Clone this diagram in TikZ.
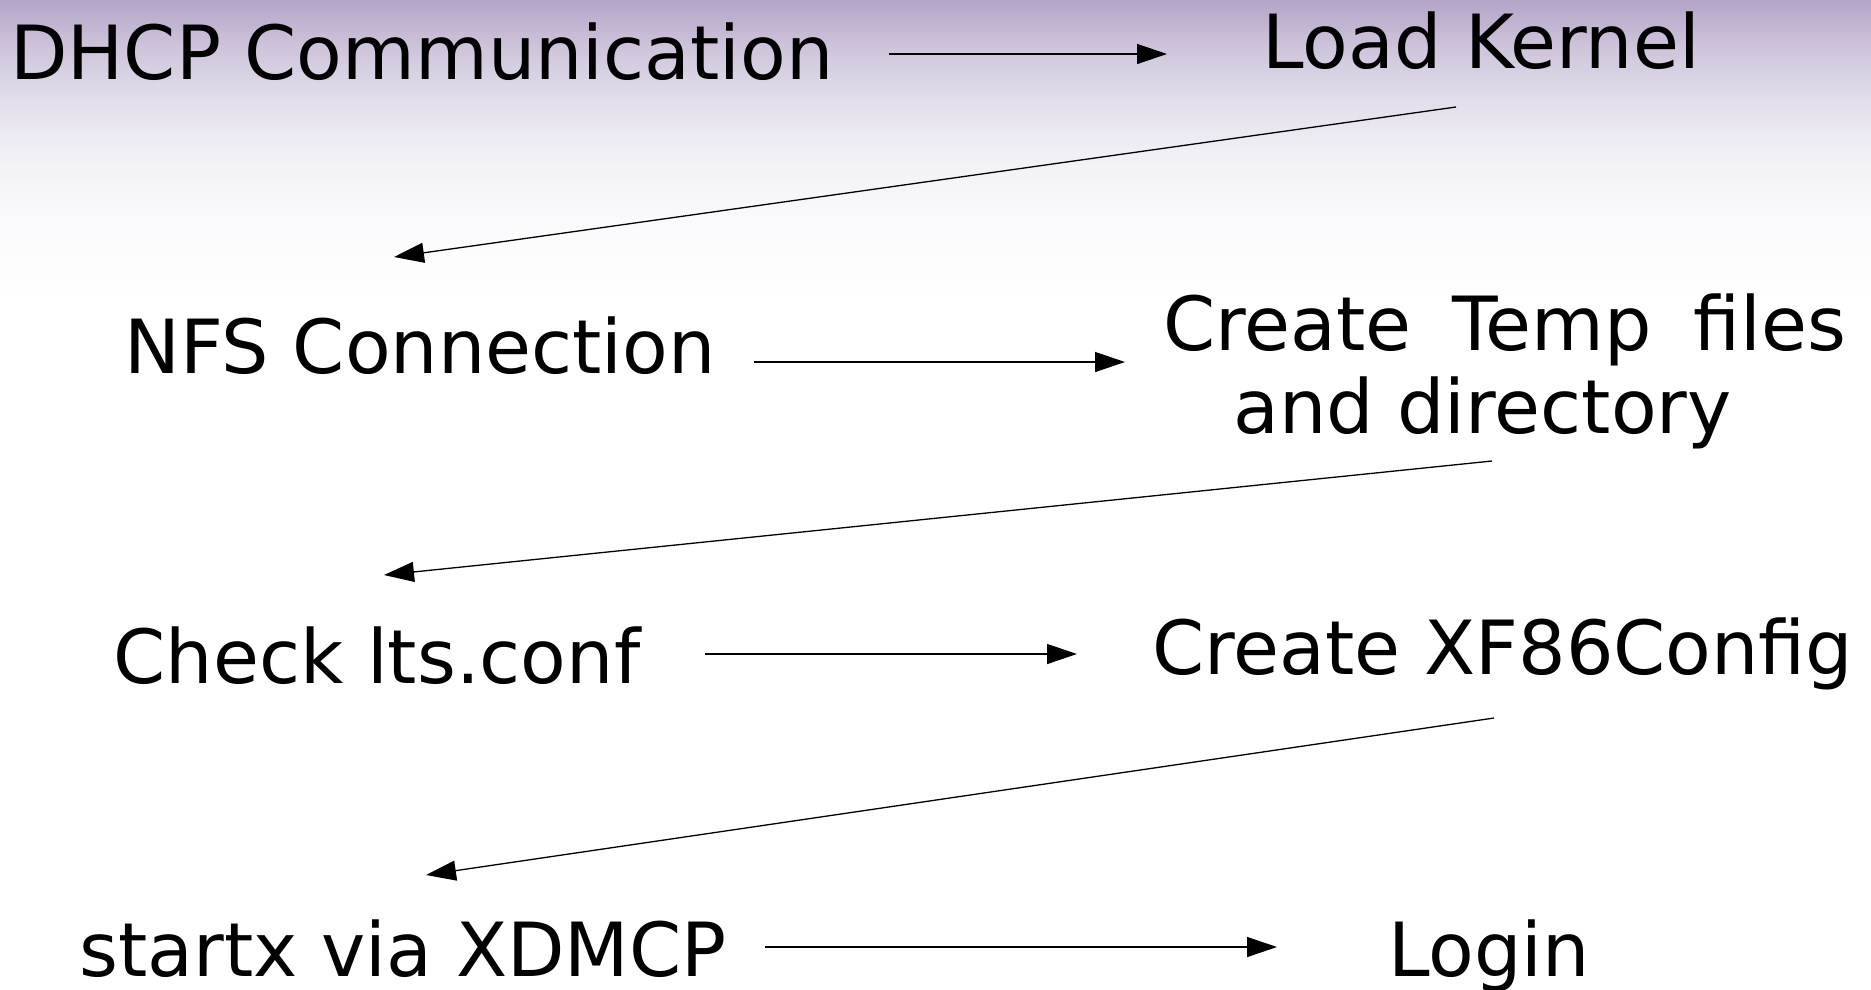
\documentclass[tikz,border=0pt]{standalone}
\usepackage{fontspec}
\setmainfont{DejaVu Sans}
\usetikzlibrary{arrows.meta}
\definecolor{g0}{RGB}{180,164,200}
\definecolor{g1}{RGB}{208,198,220}
\definecolor{g2}{RGB}{226,222,235}
\definecolor{g3}{RGB}{240,239,245}
\definecolor{g4}{RGB}{250,250,252}
\pgfdeclareverticalshading{topfade}{100bp}{color(0bp)=(white); color(25bp)=(white); color(38.35bp)=(g4); color(50bp)=(g3); color(58.35bp)=(g2); color(66.65bp)=(g1); color(75bp)=(g0); color(100bp)=(g0)}
\begin{document}
\begin{tikzpicture}[x=1pt,y=-1pt,
  lbl/.style={anchor=base, inner sep=0pt, font=\fontsize{74.7}{83}\selectfont},
  conn/.style={line width=1.3pt, -{Triangle[length=30pt,width=20pt]}}]
\useasboundingbox (0,0) rectangle (1871,989);
\fill[white] (0,0) rectangle (1871,989);
\shade[shading=topfade] (0,0) rectangle (1871,300);
% nodes
\node[lbl] (dhcp) at (422,79) {DHCP Communication};
\node[lbl] (kernel) at (1481,68) {Load Kernel};
\node[lbl] (nfs) at (420,373) {NFS Connection};
\node[lbl, anchor=base west, align=left] (temp) at (1163,433) {\makebox[683pt][s]{Create Temp files}\\\hspace*{70pt}and directory};
\node[lbl] (lts) at (377,683) {Check lts.conf};
\node[lbl] (xf86) at (1503,674) {Create XF86Config};
\node[lbl] (startx) at (403,976) {startx via XDMCP};
\node[lbl] (login) at (1489,976) {Login};
% connector ends
\coordinate (a1s) at (889,54);  \coordinate (a1e) at (1167,54);
\coordinate (a2s) at (1456,107); \coordinate (a2e) at (394,257);
\coordinate (a3s) at (754,362); \coordinate (a3e) at (1125,362);
\coordinate (a4s) at (1492,461); \coordinate (a4e) at (384,575);
\coordinate (a5s) at (705,654); \coordinate (a5e) at (1077,654);
\coordinate (a6s) at (1494,718); \coordinate (a6e) at (426,875);
\coordinate (a7s) at (765,947); \coordinate (a7e) at (1277,947);
\draw[conn] (a1s) -- (a1e);
\draw[conn] (a2s) -- (a2e);
\draw[conn] (a3s) -- (a3e);
\draw[conn] (a4s) -- (a4e);
\draw[conn] (a5s) -- (a5e);
\draw[conn] (a6s) -- (a6e);
\draw[conn] (a7s) -- (a7e);
\end{tikzpicture}
\end{document}
